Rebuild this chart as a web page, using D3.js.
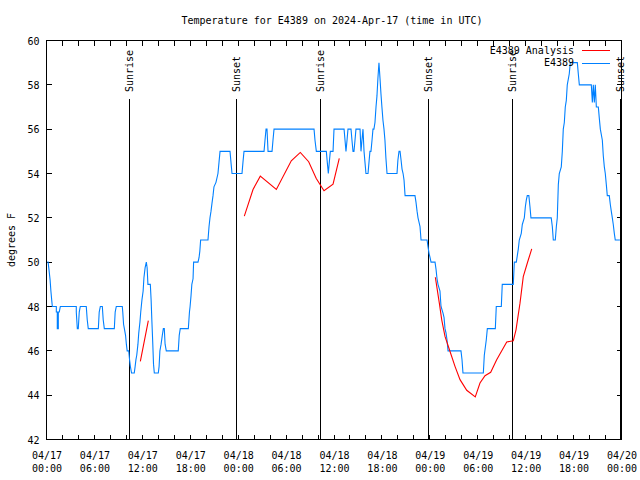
<!DOCTYPE html>
<html><head><meta charset="utf-8">
<script src="https://cdn.jsdelivr.net/npm/d3@7"></script>
<style>
html,body{margin:0;padding:0;background:#fff;}
svg{display:block;}
text{font-family:"DejaVu Sans Mono",monospace;font-size:10px;fill:#000;}
</style></head><body>
<svg id="c" width="640" height="480"></svg>
<script>
// ---- data ----
const titleText = "Temperature for E4389 on 2024-Apr-17 (time in UTC)";
const yLabelText = "degrees F";
const startUTC = Date.UTC(2024,3,17,0,0);
const yTicks = [42,44,46,48,50,52,54,56,58,60];
const xTickHours = d3.range(0,73,2);
const xLabelHours = [0,6,12,18,24,30,36,42,48,54,60,66,72];
const xLabelDates = ["04/17","04/17","04/17","04/17","04/18","04/18","04/18","04/18","04/19","04/19","04/19","04/19","04/20"];
const xLabelTimes = ["00:00","06:00","12:00","18:00","00:00","06:00","12:00","18:00","00:00","06:00","12:00","18:00","00:00"];
const sunHours = [10.43,23.75,34.35,47.8,58.39,71.84];
const sunLabels = ["Sunrise","Sunset","Sunrise","Sunset","Sunrise","Sunset"];
const seriesNames = ["E4389 Analysis","E4389"];
const seriesColors = ["#ff0000","#0080ff"];

// observations: hours since 04/17 00:00 UTC, temperature F
const obsHours = [0.1,0.2,0.3,0.45,0.55,0.65,0.73,1.23,1.23,1.35,1.35,1.48,1.48,1.6,1.73,3.73,3.73,3.86,3.98,4.1,4.23,4.98,5.1,5.23,6.49,6.6,6.74,6.99,7.1,7.24,8.49,8.6,8.74,9.49,9.55,9.65,9.75,9.9,10.0,10.1,10.3,10.4,10.5,10.65,10.99,11.1,11.2,11.3,11.45,11.55,11.7,11.8,11.95,12.1,12.2,12.35,12.5,12.6,12.7,13.0,13.1,13.2,13.3,13.4,13.5,14.0,14.1,14.2,14.35,14.5,14.63,14.75,14.85,15.0,16.5,16.62,16.75,17.76,17.9,17.98,18.1,18.2,18.35,18.42,18.97,19.1,19.2,19.3,20.22,20.35,20.47,20.6,20.72,20.85,20.97,21.22,21.47,21.6,21.73,22.98,23.1,23.23,24.48,24.6,24.73,27.24,27.36,27.49,27.61,27.74,28.24,28.36,28.49,33.5,33.62,33.79,35.04,35.16,35.29,35.41,35.54,35.88,36.0,37.26,37.38,37.5,37.63,37.75,38.13,38.25,38.38,38.5,38.63,38.75,39.26,39.38,39.5,39.63,39.76,39.88,40.0,40.26,40.38,40.5,40.63,40.76,40.88,41.0,41.13,41.26,41.38,41.5,41.63,41.76,41.88,42.0,42.13,42.26,42.38,42.5,42.64,43.89,44.0,44.14,44.27,44.4,44.52,44.65,44.77,44.9,46.14,46.27,46.4,46.52,46.65,46.77,46.9,47.65,47.77,47.9,48.03,48.15,48.65,48.77,48.9,49.02,49.27,49.4,49.65,49.78,49.9,50.03,50.15,50.28,51.9,52.03,52.15,54.7,54.82,55.07,55.2,56.2,56.32,56.95,57.07,58.45,58.58,58.83,59.08,59.2,59.45,59.58,59.83,59.96,60.08,60.2,60.4,60.54,60.66,63.2,63.34,63.46,63.71,63.84,63.96,64.09,64.21,64.46,64.59,64.71,64.84,64.96,65.09,65.21,65.46,65.59,66.47,66.59,66.72,68.22,68.35,68.47,68.6,68.72,68.85,69.1,69.22,69.35,69.6,69.72,69.85,69.97,70.1,70.22,70.47,70.6,70.72,70.85,70.97,71.1,71.22,71.8];
const obsTemps = [50,50,49.7,49.2,48.7,48.3,48,48,47.75,47.75,47,47,47.75,47.75,48,48,47.75,47,47,47.75,48,48,47.4,47,47,47.75,48,48,47.4,47,47,47.75,48,48,47.75,47.2,47,46.7,46.3,46,46,45.6,45.3,45,45,45.3,45.6,45.8,46.3,46.8,47.3,47.75,48.3,48.7,49.3,49.75,50,49.75,49,49,48.3,47.3,46.4,45.4,45,45,45.3,46,46.3,46.7,47,47,46.3,46,46,46.7,47,47,47.75,48,48.5,49,49.25,50,50,50.2,50.5,51,51,51.6,52,52.3,52.65,53,53.4,53.6,54,54.5,55,55,54.5,54,54,54.5,55,55,55.5,56,56,55,55,55.5,56,56,55.5,55,55,54.5,54,54.5,55,55,56,56,55.5,55,55.5,56,56,55.5,55,55,55.5,56,56,55,55.5,56,55,54.5,54,54,54.5,55,55,55.5,56,56,56.3,57,57.5,58.3,59,58.3,57.6,57,56.4,56,55.5,54.7,54,54,54.6,55,55,54.6,54.2,54,53.7,53,53,52.7,52.3,52,51.8,51.6,51,51,50.7,50.4,50.2,50,50,49.7,49.25,49,48.7,48,47.7,47.5,47,46.8,46.5,46,46,45.6,45,45,45.8,46.5,47,47,48,48,49,49,50,50,50.6,51,51.3,51.7,52,52.5,52.8,53,53,52.5,52,52,51.6,51,51,51.6,52,53.5,54,54.3,55,56,56.3,57,57.3,58,58.5,59,59,58.5,58,58,57.2,58,57.2,58,57,57,56.5,56,55.5,54.8,54.3,54,53.5,53,53,52.6,52.3,52,51.7,51.3,51,51];

// analysis (NaN separates segments)
const anaHours = [11.75,12.75,NaN,24.77,25.86,26.77,28.78,30.65,31.78,32.83,33.78,34.75,35.88,36.66,NaN,48.69,49.19,49.49,49.9,50.53,51.15,51.78,52.62,53.69,54.28,54.91,55.62,56.37,57.63,58.45,58.79,59.29,59.7,60.2,60.76];
const anaTemps = [45.52,47.36,NaN,52.08,53.28,53.88,53.28,54.57,54.95,54.53,53.77,53.22,53.52,54.68,NaN,49.32,48.15,47.4,46.65,45.97,45.3,44.7,44.22,43.92,44.55,44.88,45.03,45.6,46.4,46.45,46.95,48.15,49.35,49.95,50.6];

// ---- drawing ----
const svg = d3.select("#c");
const L = 46.5, R = 621.5, T = 40.5, B = 439.5;
const hr = h => new Date(startUTC + h*3600e3);
const x = d3.scaleUtc().domain([hr(0), hr(72)]).range([L, R]);
const y = d3.scaleLinear().domain([42, 60]).range([B, T]);

svg.append("rect").attr("width",640).attr("height",480).attr("fill","#fff");

// ticks (inward, mirrored)
const tk = 5;
const gx = svg.append("g").attr("stroke","#000").attr("stroke-width",1).attr("shape-rendering","crispEdges");
xTickHours.forEach(h => {
  const xx = Math.round(x(hr(h)) - 0.5) + 0.5;
  gx.append("line").attr("x1",xx).attr("x2",xx).attr("y1",B).attr("y2",B-tk);
  gx.append("line").attr("x1",xx).attr("x2",xx).attr("y1",T).attr("y2",T+tk);
});
yTicks.forEach(v => {
  const yy = Math.round(y(v) - 0.5) + 0.5;
  gx.append("line").attr("x1",L).attr("x2",L+tk).attr("y1",yy).attr("y2",yy);
  gx.append("line").attr("x1",R).attr("x2",R-tk).attr("y1",yy).attr("y2",yy);
});

// axis labels via d3 axes (domain/tick lines hidden)
const axB = d3.axisBottom(x).tickValues(xLabelHours.map(hr)).tickSize(0).tickFormat(() => "");
const gb = svg.append("g").attr("transform",`translate(0,${B})`).call(axB);
gb.select(".domain").remove();
gb.selectAll(".tick").each(function(d,i){
  const g = d3.select(this);
  g.append("text").attr("text-anchor","middle").attr("y",19).text(xLabelDates[i]);
  g.append("text").attr("text-anchor","middle").attr("y",32).text(xLabelTimes[i]);
});
const axL = d3.axisLeft(y).tickValues(yTicks).tickSize(0).tickPadding(7).tickFormat(d3.format("d"));
const gl = svg.append("g").attr("transform",`translate(${L},0)`).call(axL);
gl.select(".domain").remove();
gl.selectAll("text").attr("font-family","DejaVu Sans Mono").attr("font-size",10).attr("fill","#000").attr("dy","0.35em");

// sunrise / sunset lines
sunHours.forEach((h,i) => {
  const xx = Math.round(x(hr(h)) - 0.5) + 0.5;
  svg.append("line").attr("x1",xx).attr("x2",xx).attr("y1",99).attr("y2",B)
    .attr("stroke","#000").attr("stroke-width",1).attr("shape-rendering","crispEdges");
  svg.append("text").attr("transform",`translate(${xx},92) rotate(-90)`)
    .attr("text-anchor","start").attr("dy","0.35em").text(sunLabels[i]);
});

// series
const obs = obsHours.map((h,i) => [hr(h), obsTemps[i]]);
const ana = anaHours.map((h,i) => [isNaN(h) ? null : hr(h), anaTemps[i]]);
const line = d3.line().defined(d => d[0] !== null && !isNaN(d[1])).x(d => x(d[0])).y(d => y(d[1]));
svg.append("path").attr("d", line(obs)).attr("fill","none").attr("stroke",seriesColors[1]).attr("stroke-width",1.1);
svg.append("path").attr("d", line(ana)).attr("fill","none").attr("stroke",seriesColors[0]).attr("stroke-width",1.1);

// border
svg.append("rect").attr("x",L).attr("y",T).attr("width",R-L).attr("height",B-T)
  .attr("fill","none").attr("stroke","#000").attr("stroke-width",1).attr("shape-rendering","crispEdges");

// legend
[0,1].forEach(i => {
  const ly = 50 + i*12.5;
  svg.append("text").attr("x",574).attr("y",ly).attr("dy","0.35em").attr("text-anchor","end").text(seriesNames[i]);
  svg.append("line").attr("x1",582).attr("x2",610).attr("y1",Math.round(ly)+0.5).attr("y2",Math.round(ly)+0.5)
    .attr("stroke",seriesColors[i]).attr("stroke-width",1).attr("shape-rendering","crispEdges");
});

// title and y label
svg.append("text").attr("x",332).attr("y",20).attr("dy","0.35em").attr("text-anchor","middle").text(titleText);
svg.append("text").attr("transform","translate(11,240) rotate(-90)").attr("text-anchor","middle").attr("dy","0.35em").text(yLabelText);
</script>
</body></html>
